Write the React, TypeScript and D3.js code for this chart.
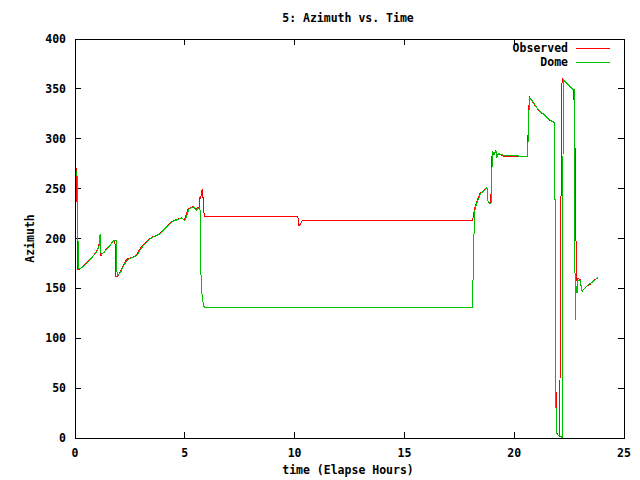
import * as d3 from 'd3';

// [elapsed hours, azimuth deg]
const observed: [number, number][] = [
  [0.05, 271], [0.07, 262], [0.09, 245], [0.1, 195], [0.12, 169], [0.2, 169], [0.4, 173], [0.6, 177],
  [0.8, 182], [0.95, 186], [1.05, 190], [1.1, 195], [1.13, 197], [1.16, 186], [1.18, 183], [1.3, 186],
  [1.45, 190], [1.59, 193], [1.7, 196], [1.79, 198], [1.82, 197], [1.84, 175], [1.86, 162], [1.95, 162],
  [2.05, 166], [2.2, 173], [2.35, 179], [2.45, 180], [2.58, 181], [2.7, 182], [2.81, 184], [2.9, 188],
  [3.04, 192], [3.2, 196], [3.42, 200], [3.55, 202], [3.72, 203], [3.85, 205], [4.02, 209], [4.2, 213],
  [4.4, 217], [4.5, 218], [4.63, 219], [4.75, 220], [4.86, 221], [4.95, 219], [5.01, 220], [5.1, 226],
  [5.16, 230], [5.3, 231], [5.39, 232], [5.5, 229], [5.58, 231], [5.66, 231], [5.69, 242], [5.72, 240],
  [5.77, 247], [5.8, 250], [5.84, 238], [5.87, 229], [5.88, 222], [10.15, 222], [10.2, 213], [10.25, 214],
  [10.34, 218], [18.1, 218], [18.12, 220], [18.18, 228], [18.25, 234], [18.35, 240], [18.44, 245],
  [18.55, 247], [18.65, 249], [18.72, 251], [18.76, 250], [18.79, 238], [18.85, 236], [18.93, 236],
  [18.95, 248], [18.97, 274], [19.0, 287], [19.08, 284], [19.16, 288], [19.2, 282], [19.28, 285],
  [19.5, 282.5], [20.2, 282], [20.6, 282], [20.62, 297], [20.66, 327], [20.69, 342], [20.8, 338],
  [20.95, 333], [21.17, 327], [21.3, 325], [21.48, 321], [21.65, 318], [21.78, 317], [21.83, 316],
  [21.84, 240], [21.87, 238], [21.88, 84], [21.93, 5], [22.0, 3], [22.08, 1], [22.09, 91], [22.14, 272],
  [22.18, 361], [22.31, 357], [22.45, 354], [22.54, 352], [22.69, 349], [22.72, 349], [22.74, 298],
  [22.77, 290], [22.8, 290], [22.81, 203], [22.83, 176], [22.86, 157], [22.9, 160], [23.0, 159],
  [23.09, 147], [23.2, 150], [23.3, 152], [23.45, 154], [23.53, 156], [23.7, 159], [23.83, 161],
];

const dome: [number, number][] = [
  [0.05, 268], [0.1, 262], [0.12, 237], [0.14, 192], [0.16, 170], [0.25, 170], [0.45, 173], [0.65, 178],
  [0.85, 183], [1.0, 187], [1.1, 193], [1.12, 196], [1.14, 204], [1.16, 190], [1.19, 184], [1.32, 186],
  [1.47, 190], [1.6, 193], [1.72, 197], [1.8, 198], [1.87, 198], [1.89, 178], [1.92, 163], [2.0, 164],
  [2.1, 167], [2.22, 173], [2.38, 178], [2.5, 180], [2.62, 181], [2.75, 182], [2.85, 184], [2.95, 188],
  [3.08, 192], [3.25, 196], [3.45, 200], [3.6, 202], [3.75, 203], [3.9, 205], [4.05, 209], [4.25, 213],
  [4.45, 217], [4.55, 218], [4.68, 219], [4.8, 220], [4.9, 220], [4.98, 218], [5.05, 220], [5.14, 226],
  [5.2, 230], [5.35, 231], [5.42, 231], [5.52, 228], [5.6, 230], [5.68, 231], [5.71, 226], [5.72, 178],
  [5.75, 153], [5.8, 140], [5.86, 132], [5.9, 131], [18.1, 131], [18.12, 153], [18.16, 197], [18.2, 227],
  [18.27, 234], [18.38, 240], [18.47, 245], [18.58, 247], [18.68, 249], [18.74, 251], [18.78, 250],
  [18.81, 236], [18.9, 235], [18.96, 236], [18.97, 249], [18.99, 273], [19.02, 287], [19.1, 285],
  [19.17, 288], [19.21, 282], [19.3, 285], [19.5, 283.7], [20.19, 283.7], [20.2, 282], [20.6, 282],
  [20.63, 297], [20.67, 327], [20.7, 341], [20.82, 338], [20.97, 333], [21.19, 327], [21.32, 325],
  [21.5, 321], [21.67, 318], [21.8, 317], [21.83, 316], [21.84, 239], [21.86, 239], [21.87, 83],
  [21.92, 5], [22.0, 3], [22.1, 2], [22.19, 0], [22.2, 180], [22.24, 359], [22.33, 357], [22.47, 354],
  [22.56, 352], [22.7, 349], [22.73, 349], [22.74, 291], [22.78, 118], [22.8, 155], [22.86, 145],
  [22.88, 158], [23.0, 158], [23.09, 147], [23.2, 150], [23.3, 152], [23.45, 155], [23.55, 156],
  [23.7, 159], [23.83, 161],
];

const xTicks = [0, 5, 10, 15, 20, 25];
const yTicks = [0, 50, 100, 150, 200, 250, 300, 350, 400];

const series = [
  { name: 'Observed', color: '#ff0000', data: observed },
  { name: 'Dome', color: '#00c000', data: dome },
];

const W = 640;
const H = 480;
const left = 75;
const right = 624;
const top = 39;
const bottom = 438;
const font = '"DejaVu Sans Mono", monospace';

export default function App() {
  const x = d3.scaleLinear().domain([0, 25]).range([left, right]);
  const y = d3.scaleLinear().domain([0, 400]).range([bottom, top]);
  const line = d3
    .line<[number, number]>()
    .x((d) => x(d[0]))
    .y((d) => y(d[1]));

  const tickLen = 6;

  return (
    <>
      <style>{'body{margin:0}'}</style>
      <svg width={W} height={H} style={{ display: 'block', background: '#fff' }}>
        <g fontFamily={font} fontSize={11.5} fontWeight="bold" fill="#000">
          <text x={348} y={22} textAnchor="middle">5: Azimuth vs. Time</text>
          <text x={348} y={474} textAnchor="middle">time (Elapse Hours)</text>
          <text transform={`translate(34, ${(top + bottom) / 2}) rotate(-90)`} textAnchor="middle">
            Azimuth
          </text>

          {yTicks.map((t) => (
            <text key={'yl' + t} x={66} y={y(t) + 4} textAnchor="end">{t}</text>
          ))}
          {xTicks.map((t) => (
            <text key={'xl' + t} x={x(t)} y={457} textAnchor="middle">{t}</text>
          ))}
        </g>

        <g stroke="#000" strokeWidth={1} shapeRendering="crispEdges">
          {yTicks.slice(1, -1).map((t) => (
            <g key={'yt' + t}>
              <line x1={left} x2={left + tickLen} y1={y(t)} y2={y(t)} />
              <line x1={right} x2={right - tickLen} y1={y(t)} y2={y(t)} />
            </g>
          ))}
          {xTicks.slice(1, -1).map((t) => (
            <g key={'xt' + t}>
              <line x1={x(t)} x2={x(t)} y1={bottom} y2={bottom - tickLen} />
              <line x1={x(t)} x2={x(t)} y1={top} y2={top + tickLen} />
            </g>
          ))}
        </g>

        <g fill="none" strokeWidth={1} shapeRendering="crispEdges">
          {series.map((s) => (
            <path key={s.name} d={line(s.data) ?? ''} stroke={s.color} />
          ))}
        </g>

        {/* legend */}
        <g fontFamily={font} fontSize={11.5} fontWeight="bold">
          {series.map((s, i) => (
            <g key={'lg' + s.name}>
              <text x={568} y={52 + i * 14} textAnchor="end">{s.name}</text>
              <line x1={576} x2={610} y1={48 + i * 14} y2={48 + i * 14} stroke={s.color} shapeRendering="crispEdges" />
            </g>
          ))}
        </g>

        <rect x={left} y={top} width={right - left} height={bottom - top} fill="none" stroke="#000" shapeRendering="crispEdges" />
      </svg>
    </>
  );
}
